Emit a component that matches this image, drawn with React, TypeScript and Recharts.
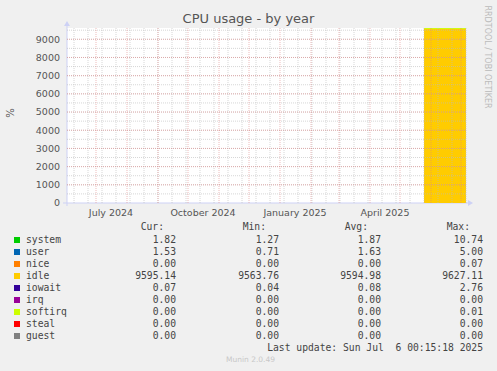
import { ComposedChart, Area, XAxis, YAxis, CartesianGrid, ReferenceLine } from "recharts";
import * as Recharts from "recharts";

// days counted from 2 June 2024 (left edge of the plot) to 6 July 2025
const days = [357, 364, 371, 378, 385, 392, 399];
const system = [1.9, 1.8, 2.0, 1.9, 1.8, 1.9, 1.82];
const user = [1.6, 1.7, 1.6, 1.6, 1.7, 1.6, 1.53];
const nice = [0, 0, 0, 0, 0, 0, 0];
const idle = [9594.6, 9595.2, 9594.8, 9595.0, 9594.9, 9595.3, 9595.14];
const iowait = [0.08, 0.09, 0.08, 0.08, 0.07, 0.08, 0.07];
const irq = [0, 0, 0, 0, 0, 0, 0];
const softirq = [0, 0, 0, 0, 0, 0, 0];
const steal = [0, 0, 0, 0, 0, 0, 0];
const guest = [0, 0, 0, 0, 0, 0, 0];

const xTicks = [44, 136, 228, 318];
const xTickLabels = ["July 2024", "October 2024", "January 2025", "April 2025"];
const monthStarts = [29, 60, 91, 121, 152, 182, 213, 244, 272, 303, 333, 364, 394];
const yTicks = [0, 1000, 2000, 3000, 4000, 5000, 6000, 7000, 8000, 9000];

const seriesNames = ["system", "user", "nice", "idle", "iowait", "irq", "softirq", "steal", "guest"];
const seriesColors = ["#00CC00", "#0066B3", "#FF8000", "#FFCC00", "#330099", "#990099", "#CCFF00", "#FF0000", "#808080"];
const curValues = ["1.82", "1.53", "0.00", "9595.14", "0.07", "0.00", "0.00", "0.00", "0.00"];
const minValues = ["1.27", "0.71", "0.00", "9563.76", "0.04", "0.00", "0.00", "0.00", "0.00"];
const avgValues = ["1.87", "1.63", "0.00", "9594.98", "0.08", "0.00", "0.00", "0.00", "0.00"];
const maxValues = ["10.74", "5.00", "0.07", "9627.11", "2.76", "0.00", "0.01", "0.00", "0.00"];

const seriesValues = [system, user, nice, idle, iowait, irq, softirq, steal, guest];
const data = days.map((day, i) => {
  const row: Record<string, number> = { day };
  seriesNames.forEach((name, s) => (row[name] = seriesValues[s][i]));
  return row;
});

const minorDays = Array.from({ length: 29 }, (_, i) => 7 + i * 14);
const minorY = Array.from({ length: 19 }, (_, i) => 500 + i * 500);

const W = 497;
const H = 371;
const tickFont = { fontSize: 9.5, fill: "#555", fontFamily: "DejaVu Sans" };
const mono = "'DejaVu Sans Mono', monospace";

function AxisArrows() {
  const usePlotArea = (Recharts as any).usePlotArea;
  const plot = usePlotArea ? usePlotArea() : null;
  if (!plot) return null;
  const { x, y, width, height } = plot;
  const bottom = y + height;
  const c = "#CDD1F5";
  return (
    <g>
      <line x1={x} y1={bottom + 3} x2={x} y2={y - 3} stroke={c} />
      <polygon points={`${x - 3},${y - 2} ${x + 3},${y - 2} ${x},${y - 7}`} fill={c} />
      <line x1={x - 4} y1={bottom} x2={x + width + 3} y2={bottom} stroke={c} />
      <polygon points={`${x + width + 2},${bottom - 3} ${x + width + 2},${bottom + 3} ${x + width + 7},${bottom}`} fill={c} />
    </g>
  );
}

const colRight = [176, 279, 381, 483];
const headRight = [164, 266, 368, 470];
const headers = ["Cur:", "Min:", "Avg:", "Max:"];
const rowTop = 240;
const rowStep = 12;

function Cell({ text, right, cy, color = "#444" }: { text: string; right: number; cy: number; color?: string }) {
  return (
    <div
      style={{
        position: "absolute",
        right: W - right,
        top: cy - 6,
        lineHeight: "12px",
        fontFamily: mono,
        fontSize: 9.7,
        color,
        whiteSpace: "pre",
      }}
    >
      {text}
    </div>
  );
}

export default function App() {
  const cols = [curValues, minValues, avgValues, maxValues];
  return (
    <div style={{ position: "absolute", left: 0, top: 0, width: W, height: H, background: "#F0F0F0", overflow: "hidden" }}>
      <div
        style={{
          position: "absolute",
          left: 0,
          width: W,
          top: 11,
          textAlign: "center",
          fontFamily: "DejaVu Sans",
          fontSize: 13,
          color: "#555",
          lineHeight: "16px",
        }}
      >
        CPU usage - by year
      </div>
      <div
        style={{
          position: "absolute",
          left: 10,
          top: 113,
          transform: "translate(-50%, -50%) rotate(-90deg)",
          fontFamily: "DejaVu Sans",
          fontSize: 10,
          color: "#555",
        }}
      >
        %
      </div>
      <div
        style={{
          position: "absolute",
          left: 487,
          top: 57,
          transform: "translate(-50%, -50%) rotate(90deg)",
          fontFamily: "DejaVu Sans",
          fontSize: 8,
          color: "#BBB",
          whiteSpace: "nowrap",
        }}
      >
        RRDTOOL / TOBI OETIKER
      </div>

      <ComposedChart
        width={W}
        height={H}
        data={data}
        margin={{ top: 28, right: 31, bottom: 138, left: 0 }}
        style={{ position: "absolute", left: 0, top: 0 }}
      >
        <CartesianGrid fill="#FFFFFF" horizontal={false} vertical={false} />
        <XAxis
          dataKey="day"
          type="number"
          domain={[0, 399]}
          allowDataOverflow
          ticks={xTicks}
          tickFormatter={(v: number) => xTickLabels[xTicks.indexOf(v)] ?? ""}
          tickLine={false}
          axisLine={false}
          tickMargin={0}
          height={30}
          tick={tickFont}
          interval={0}
        />
        <YAxis
          type="number"
          domain={[0, 9620]}
          allowDataOverflow
          ticks={yTicks}
          tickLine={false}
          axisLine={false}
          tickMargin={1}
          width={67}
          tick={tickFont}
          interval={0}
        />
        {seriesNames.map((name, i) => (
          <Area
            key={name}
            dataKey={name}
            stackId="cpu"
            type="linear"
            fill={seriesColors[i]}
            fillOpacity={1}
            stroke={name === "softirq" ? seriesColors[i] : "none"}
            strokeWidth={1}
            isAnimationActive={false}
            dot={false}
            activeDot={false}
          />
        ))}
        {minorY.map((v) => (
          <ReferenceLine key={`hy${v}`} y={v} stroke="#BBBBBB" strokeDasharray="1 1" strokeOpacity={0.6} />
        ))}
        {minorDays.map((d) => (
          <ReferenceLine key={`vx${d}`} x={d} stroke="#BBBBBB" strokeDasharray="1 1" strokeOpacity={0.6} />
        ))}
        {yTicks.slice(1).map((v) => (
          <ReferenceLine key={`my${v}`} y={v} stroke="#E08585" strokeDasharray="1 1" strokeOpacity={0.55} />
        ))}
        {monthStarts.map((d) => (
          <ReferenceLine key={`mx${d}`} x={d} stroke="#E08585" strokeDasharray="1 1" strokeOpacity={0.55} />
        ))}
        <AxisArrows />
      </ComposedChart>

      {headers.map((h, c) => (
        <Cell key={h} text={h} right={headRight[c]} cy={227} />
      ))}
      {seriesNames.map((name, r) => {
        const cy = rowTop + r * rowStep;
        return (
          <div key={name}>
            <div style={{ position: "absolute", left: 14, top: cy - 3, width: 6, height: 6, background: seriesColors[r] }} />
            <div
              style={{
                position: "absolute",
                left: 26,
                top: cy - 6,
                lineHeight: "12px",
                fontFamily: mono,
                fontSize: 9.7,
                color: "#444",
              }}
            >
              {name}
            </div>
            {cols.map((col, c) => (
              <Cell key={c} text={col[r]} right={colRight[c]} cy={cy} />
            ))}
          </div>
        );
      })}
      <Cell text="Last update: Sun Jul  6 00:15:18 2025" right={483} cy={348} />
      <div
        style={{
          position: "absolute",
          left: 0,
          width: W,
          top: 354,
          textAlign: "center",
          fontFamily: "DejaVu Sans",
          fontSize: 7.5,
          color: "#C8C8C8",
          lineHeight: "12px",
          paddingLeft: 2,
        }}
      >
        Munin 2.0.49
      </div>
    </div>
  );
}
